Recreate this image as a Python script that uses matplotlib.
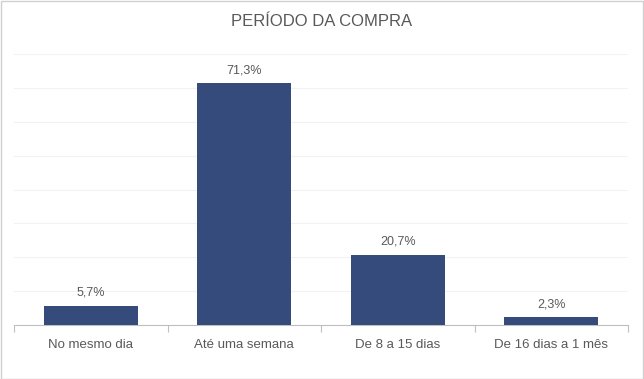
import matplotlib.pyplot as plt
from matplotlib.patches import Rectangle

# Data
categories = ['No mesmo dia', 'Até uma semana', 'De 8 a 15 dias', 'De 16 dias a 1 mês']
values = [5.7, 71.3, 20.7, 2.3]
value_labels = ['5,7%', '71,3%', '20,7%', '2,3%']

plt.rcParams['font.family'] = ['Liberation Sans', 'DejaVu Sans']

fig = plt.figure(figsize=(6.44, 3.79), dpi=100)
ax = fig.add_axes([14 / 644, 1 - 325 / 379, 614 / 644, 271 / 379])

x = range(len(categories))
bars = ax.bar(x, values, width=0.61, color='#354B7C', zorder=3)

for b, lab in zip(bars, value_labels):
    ax.annotate(lab, (b.get_x() + b.get_width() / 2, b.get_height()),
                xytext=(0, 5), textcoords='offset points', ha='center', va='bottom',
                fontsize=9, color='#595959')

ax.set_xlim(-0.5, len(categories) - 0.5)
ax.set_ylim(0, 80)
ax.set_yticks(range(0, 81, 10))
ax.yaxis.grid(True, color='#F2F2F2', linewidth=0.8, zorder=0)
ax.tick_params(axis='y', left=False, labelleft=False)

# category ticks between groups, labels at centers
ax.set_xticks([i - 0.5 for i in range(len(categories) + 1)])
ax.set_xticklabels([])
ax.set_xticks(list(x), minor=True)
ax.set_xticklabels(categories, minor=True, fontsize=9.5, color='#595959')
ax.tick_params(axis='x', which='major', length=5, color='#BFBFBF', width=0.8)
ax.tick_params(axis='x', which='minor', length=0, pad=10)

for s in ['top', 'right', 'left']:
    ax.spines[s].set_visible(False)
ax.spines['bottom'].set_color('#BFBFBF')
ax.spines['bottom'].set_linewidth(0.8)

fig.text(0.5, 1 - 22 / 379, 'PERÍODO DA COMPRA', ha='center', va='center',
         fontsize=12, color='#595959')

fig.patches.append(Rectangle((0.5 / 644, 0.5 / 379), 1 - 1.5 / 644, 1 - 1.5 / 379,
                             transform=fig.transFigure, fill=False,
                             edgecolor='#D0D0D0', linewidth=1))

fig.savefig('out.png', dpi=100)
